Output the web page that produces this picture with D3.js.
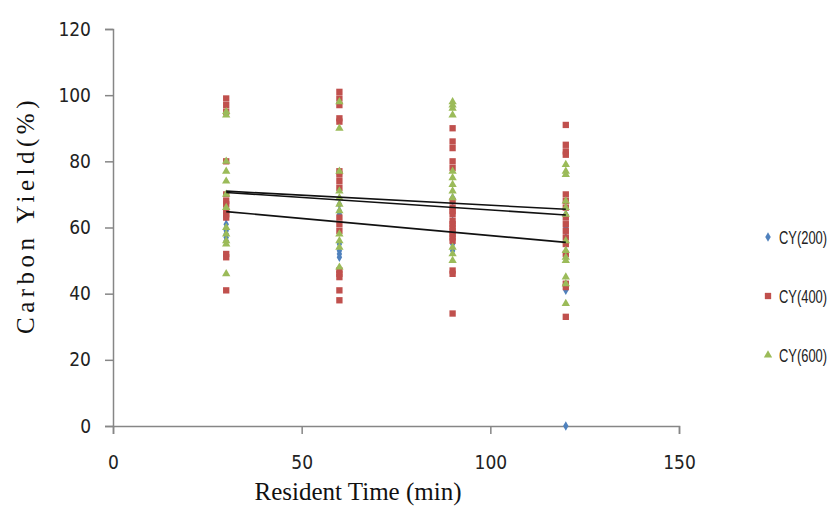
<!DOCTYPE html>
<html>
<head>
<meta charset="utf-8">
<script src="https://cdnjs.cloudflare.com/ajax/libs/d3/7.8.5/d3.min.js"></script>
<style>
    body { margin: 0; background: #fff; }
    .tick text { font-family: "Liberation Sans Narrow", "DejaVu Sans Condensed", "Liberation Sans", sans-serif; }
</style>
</head>
<body>
<div id="chart"></div>
<script>

// Resident time (min) at which every sample was taken
var times = [30, 60, 90, 120];

// Carbon yield (%) readings, one list per resident time
var cy200 = [
    [66, 63, 61, 59, 58, 57, 56],
    [67, 65, 64, 55, 53, 52, 51],
    [69, 66, 62, 55, 53],
    [64, 60, 57, 55, 52, 41, 0]
];
var cy400 = [
    [99, 97, 95, 80, 70, 68, 67, 65, 64, 63, 52, 51, 41],
    [101, 99, 97, 93, 92, 77, 76, 74, 72, 63, 61, 59, 47, 46, 45, 41, 38],
    [90, 86, 84, 80, 78, 68, 66, 65, 64, 62, 61, 60, 59, 58, 57, 56, 47, 46, 34],
    [91, 85, 83, 82, 70, 68, 66, 63, 61, 59, 57, 55, 52, 43, 42, 33]
];
var cy600 = [
    [95, 94, 80, 77, 74, 70, 66, 60, 58, 56, 55, 46],
    [98, 90, 77, 71, 69, 67, 65, 58, 56, 54, 48],
    [98, 97, 96, 94, 77, 75, 73, 71, 69, 54, 52, 50],
    [79, 77, 76, 68, 66, 64, 56, 53, 51, 50, 45, 43, 37]
];

// linear trend lines, value at 30 min and at 120 min
var trendTimes = [30, 120];
var trend200 = [64.8, 55.5];
var trend400 = [71.0, 65.5];
var trend600 = [70.6, 63.8];

var seriesNames = ["CY(200)", "CY(400)", "CY(600)"];
var xTicks = [0, 50, 100, 150];
var yTicks = [0, 20, 40, 60, 80, 100, 120];

var colors = ["#4F81BD", "#C0504D", "#9BBB59"];
var shapes = [d3.symbolDiamond, d3.symbolSquare, d3.symbolTriangle];
var sizes = [26, 40, 30];

var width = 834, height = 509;
var margin = {top: 29, right: 155, bottom: 83, left: 113};

var svg = d3.select("#chart").append("svg")
    .attr("width", width)
    .attr("height", height);

var x = d3.scaleLinear()
    .domain([0, 150])
    .range([margin.left, width - margin.right]);

var y = d3.scaleLinear()
    .domain([0, 120])
    .range([height - margin.bottom, margin.top]);

// Axes
var xAxis = svg.append("g")
    .attr("transform", "translate(0," + y(0) + ")")
    .call(d3.axisBottom(x).tickValues(xTicks).tickSize(8).tickPadding(22));

var yAxis = svg.append("g")
    .attr("transform", "translate(" + x(0) + ",0)")
    .call(d3.axisLeft(y).tickValues(yTicks).tickSize(8).tickPadding(14));

[xAxis, yAxis].forEach(function(g){
    g.select(".domain").attr("stroke", "#868686").attr("stroke-width", 1.5);
    g.selectAll(".tick line").attr("stroke", "#868686").attr("stroke-width", 1.5);
    g.selectAll(".tick text").attr("fill", "#222").style("font-size", "19px");
});

// Axis titles
svg.append("text")
    .attr("x", 358)
    .attr("y", 500)
    .attr("text-anchor", "middle")
    .style("font-family", "Liberation Serif, serif")
    .style("font-size", "25px")
    .attr("fill", "#111")
    .text("Resident Time (min)");

svg.append("text")
    .attr("transform", "translate(34,215) rotate(-90)")
    .attr("text-anchor", "middle")
    .style("font-family", "Liberation Serif, serif")
    .style("font-size", "25px")
    .style("letter-spacing", "4.5px")
    .attr("fill", "#111")
    .text("Carbon Yield(%)");

// Scatter points
var allSeries = [cy200, cy400, cy600];
allSeries.forEach(function(series, i){
    var pts = [];
    series.forEach(function(vals, j){
        vals.forEach(function(v){ pts.push({t: times[j], v: v}); });
    });
    svg.append("g").selectAll("path")
        .data(pts)
        .enter().append("path")
        .attr("d", d3.symbol().type(shapes[i]).size(sizes[i]))
        .attr("transform", function(d){ return "translate(" + x(d.t) + "," + y(d.v) + ")"; })
        .attr("fill", colors[i]);
});

// Trend lines
var line = d3.line()
    .x(function(d, k){ return x(trendTimes[k]); })
    .y(function(d){ return y(d); });

[trend200, trend400, trend600].forEach(function(t){
    svg.append("path")
        .attr("d", line(t))
        .attr("fill", "none")
        .attr("stroke", "#111")
        .attr("stroke-width", 1.6);
});

// Legend (text squeezed a bit, the original uses a narrow font)
var legend = svg.append("g")
    .attr("transform", "translate(768,237)");

seriesNames.forEach(function(name, i){
    var row = legend.append("g").attr("transform", "translate(0," + (i * 59) + ")");
    row.append("path")
        .attr("d", d3.symbol().type(shapes[i]).size(sizes[i]))
        .attr("fill", colors[i]);
    row.append("text")
        .attr("transform", "translate(11,7) scale(0.68,1)")
        .style("font-family", "Liberation Sans, sans-serif")
        .style("font-size", "19px")
        .attr("fill", "#222")
        .text(name);
});

</script>
</body>
</html>
